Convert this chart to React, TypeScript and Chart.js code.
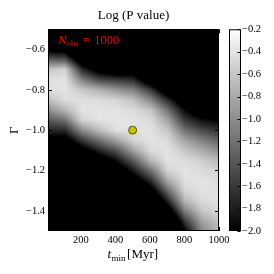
import React, { useEffect, useRef } from 'react';
import { Chart, registerables } from 'chart.js';
Chart.register(...registerables);

// Grid centres of the likelihood map
const tMin = [10, 109, 208, 307, 406, 505, 604, 703, 802, 901, 1000];
const gammaRows = [-0.5, -0.55, -0.6, -0.65, -0.7, -0.75, -0.8, -0.85, -0.9, -0.95, -1.0, -1.05, -1.1, -1.15, -1.2, -1.25, -1.3, -1.35, -1.4, -1.45, -1.5];

// Log(P value) per t_min column, rows top (-0.5) to bottom (-1.5)
const logP_t10 = [-3.6, -2.9, -2.1, -1.35, -0.6, -0.42, -0.42, -0.65, -1.0, -1.37, -1.73, -2.1, -2.5, -2.9, -3.3, -3.7, -4.1, -4.5, -4.9, -5.3, -5.7];
const logP_t109 = [-3.8, -3.0, -2.2, -1.4, -0.5, -0.4, -0.4, -0.45, -0.7, -1.2, -1.7, -2.2, -2.7, -3.2, -3.7, -4.2, -4.7, -5.2, -5.7, -6.2, -6.7];
const logP_t208 = [-4.4, -3.8, -3.1, -2.4, -1.7, -1.1, -0.6, -0.42, -0.4, -0.5, -1.0, -1.6, -2.2, -2.8, -3.4, -4.0, -4.6, -5.2, -5.8, -6.4, -7.0];
const logP_t307 = [-5.3, -4.6, -3.8, -3.0, -2.2, -1.5, -0.75, -0.45, -0.4, -0.4, -0.65, -1.2, -1.75, -2.3, -2.9, -3.5, -4.1, -4.7, -5.3, -5.9, -6.5];
const logP_t406 = [-5.4, -4.7, -4.0, -3.2, -2.4, -1.6, -0.95, -0.5, -0.4, -0.38, -0.42, -0.85, -1.4, -1.9, -2.4, -3.0, -3.6, -4.2, -4.8, -5.4, -6.0];
const logP_t505 = [-5.0, -4.4, -3.7, -3.0, -2.3, -1.7, -1.1, -0.65, -0.45, -0.4, -0.4, -0.5, -0.85, -1.35, -1.8, -2.3, -2.9, -3.5, -4.1, -4.7, -5.3];
const logP_t604 = [-6.0, -5.3, -4.6, -3.9, -3.2, -2.4, -1.6, -1.05, -0.6, -0.45, -0.4, -0.4, -0.45, -0.7, -1.2, -1.7, -2.2, -2.8, -3.4, -4.0, -4.6];
const logP_t703 = [-6.3, -5.7, -5.1, -4.5, -3.9, -3.2, -2.4, -1.7, -1.2, -0.85, -0.6, -0.45, -0.4, -0.4, -0.5, -0.8, -1.25, -1.75, -2.3, -2.9, -3.5];
const logP_t802 = [-6.0, -5.5, -5.0, -4.5, -4.0, -3.5, -3.0, -2.4, -1.95, -1.6, -1.2, -0.85, -0.6, -0.45, -0.4, -0.42, -0.5, -0.7, -1.1, -1.6, -2.0];
const logP_t901 = [-6.5, -6.0, -5.5, -5.0, -4.5, -4.0, -3.5, -3.0, -2.4, -1.9, -1.5, -1.1, -0.8, -0.55, -0.45, -0.4, -0.4, -0.45, -0.6, -0.85, -1.05];
const logP_t1000 = [-6.5, -6.0, -5.5, -5.0, -4.5, -4.0, -3.5, -2.9, -2.4, -2.0, -1.65, -1.3, -1.0, -0.7, -0.52, -0.45, -0.42, -0.42, -0.48, -0.6, -0.72];
const logPColumns = [logP_t10, logP_t109, logP_t208, logP_t307, logP_t406, logP_t505, logP_t604, logP_t703, logP_t802, logP_t901, logP_t1000];

const xTickValues = [200, 400, 600, 800, 1000];
const yTickValues = [-1.4, -1.2, -1.0, -0.8, -0.6];
const cbTickValues = [-2.0, -1.8, -1.6, -1.4, -1.2, -1.0, -0.8, -0.6, -0.4, -0.2];
const bestFit = [{ x: 500, y: -1.0 }];
const colorMin = -2.0;
const colorMax = -0.2;

const SERIF = "'Liberation Serif', 'DejaVu Serif', serif";
const fmt = (v: number) => (v < 0 ? '\u2212' : '') + Math.abs(v).toFixed(1);

const heatCells: any[] = [];
tMin.forEach((t, i) => {
  gammaRows.forEach((g, j) => {
    heatCells.push({ x: t, y: g, v: logPColumns[i][j], i, j });
  });
});

const heatmapPlugin = {
  id: 'heatmap',
  beforeDatasetsDraw(chart: any) {
    const ctx = chart.ctx as CanvasRenderingContext2D;
    const ca = chart.chartArea;
    const xs = chart.scales.x;
    const ys = chart.scales.y;
    const cells = chart.data.datasets[0].data as any[];
    const nx = tMin.length;
    const ny = gammaRows.length;
    const grid: number[][] = [];
    for (let i = 0; i < nx; i++) grid.push(new Array(ny).fill(colorMin));
    cells.forEach((c) => {
      grid[c.i][c.j] = c.v;
    });
    const cx = tMin.map((t) => xs.getPixelForValue(t));
    const cy = gammaRows.map((g) => ys.getPixelForValue(g));
    const L = Math.round(ca.left);
    const T = Math.round(ca.top);
    const W = Math.round(ca.right) - L;
    const H = Math.round(ca.bottom) - T;
    const img = ctx.createImageData(W, H);
    const locate = (arr: number[], p: number) => {
      const n = arr.length;
      const asc = arr[n - 1] > arr[0];
      if (asc ? p <= arr[0] : p >= arr[0]) return [0, 0, 0];
      if (asc ? p >= arr[n - 1] : p <= arr[n - 1]) return [n - 1, n - 1, 0];
      for (let k = 0; k < n - 1; k++) {
        const a = arr[k];
        const b = arr[k + 1];
        if ((p - a) * (p - b) <= 0) return [k, k + 1, (p - a) / (b - a)];
      }
      return [n - 1, n - 1, 0];
    };
    for (let py = 0; py < H; py++) {
      const [j0, j1, fy] = locate(cy, T + py + 0.5);
      for (let px = 0; px < W; px++) {
        const [i0, i1, fx] = locate(cx, L + px + 0.5);
        const v =
          grid[i0][j0] * (1 - fx) * (1 - fy) +
          grid[i1][j0] * fx * (1 - fy) +
          grid[i0][j1] * (1 - fx) * fy +
          grid[i1][j1] * fx * fy;
        let f = (v - colorMin) / (colorMax - colorMin);
        f = Math.max(0, Math.min(1, f));
        const g = Math.round(f * 255);
        const k = (py * W + px) * 4;
        img.data[k] = g;
        img.data[k + 1] = g;
        img.data[k + 2] = g;
        img.data[k + 3] = 255;
      }
    }
    ctx.putImageData(img, L, T);
  },
};

const decorPlugin = {
  id: 'decor',
  afterDraw(chart: any) {
    const ctx = chart.ctx as CanvasRenderingContext2D;
    const ca = chart.chartArea;
    const xs = chart.scales.x;
    const ys = chart.scales.y;
    const cb = chart.scales.cb;
    ctx.save();
    ctx.strokeStyle = '#000';
    ctx.lineWidth = 1;
    ctx.strokeRect(ca.left + 0.5, ca.top + 0.5, ca.right - ca.left - 1, ca.bottom - ca.top - 1);
    ctx.beginPath();
    xTickValues.forEach((v) => {
      const px = Math.round(xs.getPixelForValue(v)) + 0.5;
      ctx.moveTo(px, ca.bottom);
      ctx.lineTo(px, ca.bottom - 4);
      ctx.moveTo(px, ca.top);
      ctx.lineTo(px, ca.top + 4);
    });
    yTickValues.forEach((v) => {
      const py = Math.round(ys.getPixelForValue(v)) + 0.5;
      ctx.moveTo(ca.left, py);
      ctx.lineTo(ca.left + 4, py);
      ctx.moveTo(ca.right, py);
      ctx.lineTo(ca.right - 4, py);
    });
    ctx.stroke();

    // colorbar
    const cbx = ca.right + 10.5;
    const cbw = 11;
    const cbTop = cb.getPixelForValue(colorMax);
    const cbBot = cb.getPixelForValue(colorMin);
    const grad = ctx.createLinearGradient(0, cbTop, 0, cbBot);
    grad.addColorStop(0, '#ffffff');
    grad.addColorStop(1, '#000000');
    ctx.fillStyle = grad;
    ctx.fillRect(cbx, cbTop, cbw, cbBot - cbTop);
    ctx.strokeStyle = '#000';
    ctx.strokeRect(cbx, cbTop + 0.5, cbw, cbBot - cbTop - 1);
    ctx.beginPath();
    cbTickValues.forEach((v) => {
      const py = Math.round(cb.getPixelForValue(v)) + 0.5;
      ctx.moveTo(cbx + cbw, py);
      ctx.lineTo(cbx + cbw - 3, py);
    });
    ctx.stroke();

    // title
    ctx.fillStyle = '#000';
    ctx.font = `13px ${SERIF}`;
    ctx.textAlign = 'center';
    ctx.textBaseline = 'alphabetic';
    ctx.fillText('Log (P value)', (ca.left + ca.right) / 2, 19);

    // y label
    ctx.save();
    ctx.translate(18, (ca.top + ca.bottom) / 2);
    ctx.rotate(-Math.PI / 2);
    ctx.font = `13px ${SERIF}`;
    ctx.textAlign = 'center';
    ctx.fillText('\u0393', 0, 0);
    ctx.restore();

    // x label
    ctx.textAlign = 'left';
    let x = 107.5;
    ctx.font = `italic 13px ${SERIF}`;
    ctx.fillText('t', x, 258);
    x += ctx.measureText('t').width + 0.5;
    ctx.font = `9px ${SERIF}`;
    ctx.fillText('min', x, 261);
    x += ctx.measureText('min').width + 1.5;
    ctx.font = `13px ${SERIF}`;
    ctx.fillText('[Myr]', x, 258);

    // N_obs annotation
    ctx.fillStyle = '#ff0000';
    let nx = 58.3;
    ctx.font = `italic 12.5px ${SERIF}`;
    ctx.fillText('N', nx, 43.5);
    nx += ctx.measureText('N').width;
    ctx.font = `8.5px ${SERIF}`;
    ctx.fillText('obs', nx, 46);
    ctx.font = `12.5px ${SERIF}`;
    ctx.fillText('=', 82.5, 43.5);
    ctx.fillText('1000', 94.3, 43.5);
    ctx.restore();
  },
};

export default function App() {
  const ref = useRef<HTMLCanvasElement>(null);
  useEffect(() => {
    const canvas = ref.current!;
    const tickFont = { family: SERIF, size: 10.5 };
    const noGrid = { display: false, drawTicks: false, tickLength: 0 };
    const chart = new Chart(canvas, {
      type: 'scatter',
      data: {
        datasets: [
          {
            label: 'logP',
            data: heatCells,
            pointRadius: 0,
            pointHoverRadius: 0,
            showLine: false,
          } as any,
          {
            label: 'best',
            data: bestFit,
            pointRadius: 4,
            pointHoverRadius: 4,
            backgroundColor: '#c4c400',
            borderColor: '#3a3a00',
            borderWidth: 0.8,
          },
        ],
      },
      plugins: [heatmapPlugin, decorPlugin],
      options: {
        responsive: false,
        devicePixelRatio: 1,
        animation: false,
        events: [],
        layout: { padding: { top: 23, left: 0, right: 0, bottom: 0 } },
        plugins: { legend: { display: false }, tooltip: { enabled: false }, title: { display: false } },
        scales: {
          x: {
            type: 'linear',
            min: 10,
            max: 1000,
            afterBuildTicks: (s: any) => {
              s.ticks = xTickValues.map((v) => ({ value: v }));
            },
            afterFit: (s: any) => {
              s.height = 43;
            },
            ticks: { callback: (v: any) => String(v), font: tickFont, color: '#000', padding: 3, maxRotation: 0, autoSkip: false },
            grid: noGrid,
            border: { display: false },
          },
          y: {
            type: 'linear',
            position: 'left',
            min: -1.5,
            max: -0.5,
            afterBuildTicks: (s: any) => {
              s.ticks = yTickValues.map((v) => ({ value: v }));
            },
            afterFit: (s: any) => {
              s.width = 48;
            },
            ticks: { callback: (v: any) => fmt(Number(v)), font: tickFont, color: '#000', padding: 3, autoSkip: false },
            grid: noGrid,
            border: { display: false },
          },
          cb: {
            type: 'linear',
            position: 'right',
            min: colorMin,
            max: colorMax,
            afterBuildTicks: (s: any) => {
              s.ticks = cbTickValues.map((v) => ({ value: v }));
            },
            afterFit: (s: any) => {
              s.width = 55;
            },
            ticks: { callback: (v: any) => fmt(Number(v)), font: tickFont, color: '#000', padding: 23, autoSkip: false },
            grid: noGrid,
            border: { display: false },
          },
        },
      } as any,
    });
    return () => chart.destroy();
  }, []);
  return (
    <div style={{ position: 'fixed', left: 0, top: 0, width: 274, height: 274, background: '#fff' }}>
      <canvas ref={ref} width={274} height={274} style={{ width: 274, height: 274, display: 'block' }} />
    </div>
  );
}
